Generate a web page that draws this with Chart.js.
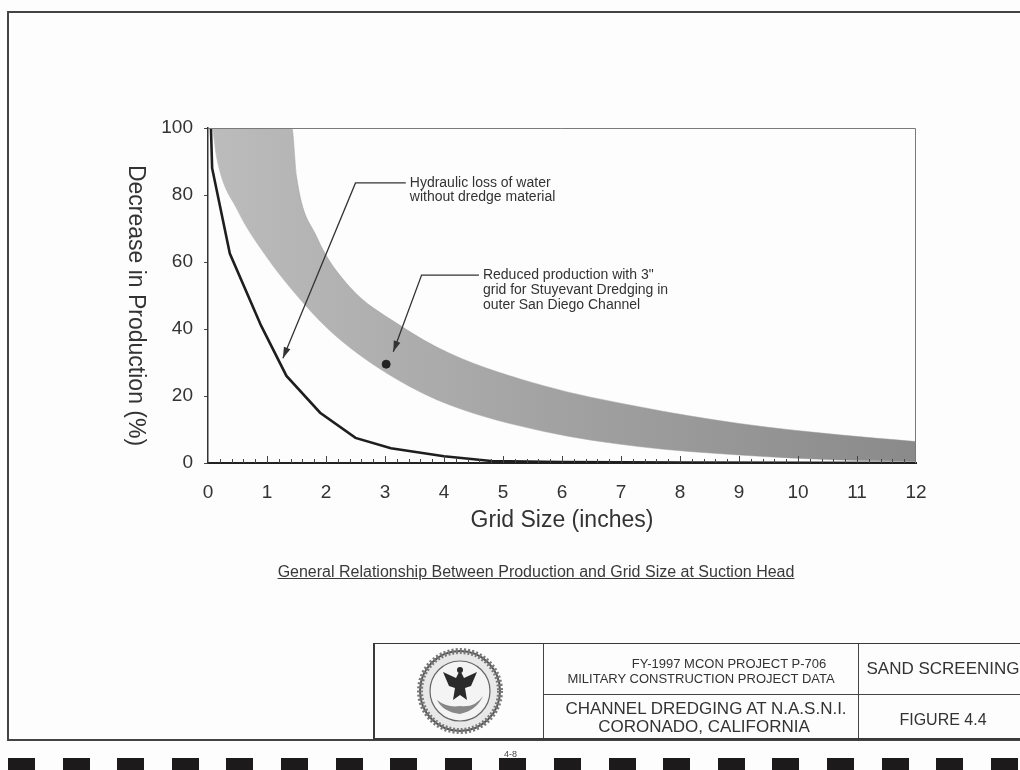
<!DOCTYPE html>
<html lang="en">
  <head>
    <meta charset="UTF-8">
    <script src="https://cdn.jsdelivr.net/npm/chart.js"></script>
    <title>Production vs Grid Size</title>
    <style>
      body{margin: 0; background: #fff;}
      #page{position: relative; width: 1020px; height: 770px; overflow: hidden; background: #fdfdfd;
        font-family: "Liberation Sans", Arial, sans-serif; color: #333;}
      #frame{position: absolute; left: 7px; top: 11px; width: 1040px; height: 726px;
        border: 2px solid #444; border-right: none;}
      #wrap{position: absolute; left: 0; top: 0; width: 1020px; height: 770px;}
      #caption{position: absolute; left: 236px; top: 563px; width: 600px; text-align: center;
        font-size: 16px; text-decoration: underline; color: #3a3a3a;}
      #block{position: absolute; left: 373px; top: 643px; width: 700px; height: 94px;
        border: 2px solid #3a3a3a; border-top-width: 1.5px;}
      .vline{position: absolute; top: 0; bottom: 0; width: 0; border-left: 1.5px solid #444;}
      .hline{position: absolute; height: 0; border-top: 1.5px solid #444;}
      .txt{position: absolute; width: 400px; text-align: center; white-space: nowrap; line-height: 1;}
      #marks{position: absolute; left: 0; top: 758px; width: 1020px; height: 14px;}
      .mark{position: absolute; top: 0; width: 27px; height: 14px; background: #1c1a1a;}
      #pageno{position: absolute; left: 504px; top: 749px; font-size: 9px; color: #444;}
    </style>
  </head>
  <body>
    <div id="page">
      <div id="frame"></div>
      <div id="wrap"><canvas id="myChart"></canvas></div>
      <div id="caption">General Relationship Between Production and Grid Size at Suction Head</div>

      <div id="block">
        <div class="vline" style="left:168px"></div>
        <div class="vline" style="left:483px"></div>
        <div class="hline" style="left:168px; width:600px; top:50px"></div>
        <svg style="position:absolute; left:42px; top:4px" width="86" height="86" viewBox="0 0 86 86">
          <circle cx="43" cy="43" r="40" fill="#e8e8e8" stroke="#555" stroke-width="2"/>
          <circle cx="43" cy="43" r="40" fill="none" stroke="#777" stroke-width="6" stroke-dasharray="2 2"/>
          <circle cx="43" cy="43" r="30" fill="#f4f4f4" stroke="#666" stroke-width="1.2"/>
          <path d="M20 52 Q30 60 43 58 Q58 60 66 48 Q60 62 43 66 Q26 64 20 52 Z" fill="#888"/>
          <path d="M43 22 L47 30 L60 24 L54 38 L48 40 L50 52 L43 47 L36 52 L38 40 L32 38 L26 24 L39 30 Z" fill="#2a2a2a"/>
          <circle cx="43" cy="22" r="3" fill="#2a2a2a"/>
        </svg>
        <div class="txt" style="left:154px; top:13px; font-size:13px">FY-1997 MCON PROJECT P-706</div>
        <div class="txt" style="left:126px; top:28px; font-size:13px">MILITARY CONSTRUCTION PROJECT DATA</div>
        <div class="txt" style="left:131px; top:56px; font-size:17px">CHANNEL DREDGING AT N.A.S.N.I.</div>
        <div class="txt" style="left:129px; top:74px; font-size:17px">CORONADO, CALIFORNIA</div>
        <div class="txt" style="left:368px; top:16px; font-size:17px">SAND SCREENING</div>
        <div class="txt" style="left:368px; top:68px; font-size:16px">FIGURE 4.4</div>
      </div>

      <div id="marks"></div>
      <div id="pageno">4-8</div>
    </div>

    <script>
      // 그래프 데이터 (Grid Size inches / Decrease %)
      const xTickLabels = ['0', '1', '2', '3', '4', '5', '6', '7', '8', '9', '10', '11', '12'];
      const yTickLabels = ['0', '20', '40', '60', '80', '100'];

      // Hydraulic loss of water without dredge material
      const lossX = [0.05, 0.07, 0.37, 0.9, 1.33, 1.9, 2.5, 3.1, 4.0, 4.8, 6.0, 8.0, 12.0];
      const lossY = [100, 88, 62.5, 41, 26, 15, 7.5, 4.4, 2.0, 0.6, 0.3, 0.1, 0];

      // shaded band - upper edge
      const bandTopX = [0.08, 1.42, 1.5, 1.84, 2.4, 3.2, 4.1, 5.7, 7.3, 9.0, 10.7, 12.0];
      const bandTopY = [100, 100, 85.5, 67.6, 52.6, 41.7, 32.7, 23, 16.8, 11.8, 8.4, 6.4];

      // shaded band - lower edge
      const bandLowX = [0.08, 0.15, 0.5, 0.95, 1.62, 2.18, 3.2, 4.1, 5.7, 7.3, 9.0, 10.7, 12.0];
      const bandLowY = [100, 91, 75.5, 62.6, 47.7, 37.7, 25, 17.3, 9.4, 4.9, 2.4, 0.9, 0.5];

      // Stuyevant Dredging, 3" grid
      const stuyX = [3.02];
      const stuyY = [29.5];

      function pts(xs, ys){
        return xs.map((x, i) => ({x: x, y: ys[i]}));
      }

      // 주석 (leader lines)
      const notes = [
        {lines: ['Hydraulic loss of water', 'without dredge material'],
         text: [3.42, 83.6], elbow: [2.5, 83.6], tip: [1.27, 31.3], gap: 14},
        {lines: ['Reduced production with 3"', 'grid for Stuyevant Dredging in', 'outer San Diego Channel'],
         text: [4.66, 56.1], elbow: [3.62, 56.1], tip: [3.14, 33.2], gap: 15}
      ];

      const FONT = '"Liberation Sans", Arial, sans-serif';

      const decor = {
        id: 'decor',
        afterDraw(chart){
          const c = chart.ctx;
          const a = chart.chartArea;
          const xs = chart.scales.x, ys = chart.scales.y;
          c.save();
          // plot box top/right
          c.strokeStyle = '#7a7a7a';
          c.lineWidth = 1;
          c.beginPath();
          c.moveTo(a.left, a.top + 0.5);
          c.lineTo(a.right - 0.5, a.top + 0.5);
          c.lineTo(a.right - 0.5, a.bottom);
          c.stroke();

          // minor ticks (0.2 in), inward
          c.strokeStyle = '#444';
          c.lineWidth = 1;
          for(let i = 1; i < 60; i++){
            const px = Math.round(xs.getPixelForValue(i / 5)) + 0.5;
            const len = (i % 5 === 0) ? 7 : 4;
            c.beginPath();
            c.moveTo(px, a.bottom);
            c.lineTo(px, a.bottom - len);
            c.stroke();
          }

          // y 축 제목 (top to bottom)
          c.fillStyle = '#333';
          c.font = '23px ' + FONT;
          c.textAlign = 'center';
          c.textBaseline = 'middle';
          c.translate(a.left - 73, (a.top + a.bottom) / 2 + 10);
          c.rotate(Math.PI / 2);
          c.fillText('Decrease in Production (%)', 0, 0);
          c.restore();

          // annotations
          c.save();
          c.strokeStyle = '#333';
          c.fillStyle = '#333';
          c.lineWidth = 1.3;
          c.font = '14px ' + FONT;
          c.textAlign = 'left';
          c.textBaseline = 'middle';
          notes.forEach(n => {
            const tx = xs.getPixelForValue(n.text[0]), ty = ys.getPixelForValue(n.text[1]);
            const ex = xs.getPixelForValue(n.elbow[0]), ey = ys.getPixelForValue(n.elbow[1]);
            const px = xs.getPixelForValue(n.tip[0]), py = ys.getPixelForValue(n.tip[1]);
            c.beginPath();
            c.moveTo(tx - 4, ey);
            c.lineTo(ex, ey);
            c.lineTo(px, py);
            c.stroke();
            const ang = Math.atan2(py - ey, px - ex);
            c.beginPath();
            c.moveTo(px, py);
            c.lineTo(px - 11 * Math.cos(ang) + 3.5 * Math.sin(ang), py - 11 * Math.sin(ang) - 3.5 * Math.cos(ang));
            c.lineTo(px - 11 * Math.cos(ang) - 3.5 * Math.sin(ang), py - 11 * Math.sin(ang) + 3.5 * Math.cos(ang));
            c.closePath();
            c.fill();
            n.lines.forEach((t, i) => c.fillText(t, tx, ty + i * n.gap));
          });
          c.restore();
        }
      };

      function bandColor(ctx){
        const a = ctx.chart.chartArea;
        if(!a) return '#a8a8a8';
        const g = ctx.chart.ctx.createLinearGradient(a.left, 0, a.right, 0);
        g.addColorStop(0, '#bcbcbc');
        g.addColorStop(0.45, '#a4a4a4');
        g.addColorStop(1, '#8a8a8a');
        return g;
      }

      new Chart(document.getElementById('myChart'), {
        type: 'line',
        data: {
          datasets: [{
            label: 'Stuyevant 3" grid',
            data: pts(stuyX, stuyY),
            showLine: false,
            pointRadius: 4,
            pointBackgroundColor: '#222',
            pointBorderColor: '#222'
          }, {
            label: 'Hydraulic loss',
            data: pts(lossX, lossY),
            borderColor: '#1e1e1e',
            borderWidth: 2.6,
            pointRadius: 0,
            tension: 0,
            fill: false
          }, {
            label: 'Band upper',
            data: pts(bandTopX, bandTopY),
            borderColor: '#9a9a9a',
            borderWidth: 0.5,
            backgroundColor: bandColor,
            pointRadius: 0,
            cubicInterpolationMode: 'monotone',
            fill: '+1'
          }, {
            label: 'Band lower',
            data: pts(bandLowX, bandLowY),
            borderColor: '#a0a0a0',
            borderWidth: 0.5,
            pointRadius: 0,
            cubicInterpolationMode: 'monotone',
            fill: false
          }]
        },
        options: {
          responsive: true,
          maintainAspectRatio: false,
          animation: false,
          layout: {padding: {left: 150, top: 128, right: 104, bottom: 236}},
          plugins: {legend: {display: false}, tooltip: {enabled: false}},
          scales: {
            x: {
              type: 'linear',
              min: 0, max: 12,
              grid: {display: false, drawTicks: false},
              border: {display: true, color: '#222', width: 2},
              ticks: {
                stepSize: 1, padding: 18, color: '#333',
                font: {size: 19, family: FONT},
                callback: (v, i) => xTickLabels[i]
              },
              title: {display: true, text: 'Grid Size (inches)', color: '#333',
                font: {size: 23, family: FONT}, padding: {top: 0, bottom: 0}},
              afterFit(s){ s.height = 71; }
            },
            y: {
              min: 0, max: 100,
              grid: {drawOnChartArea: false, drawTicks: true, tickLength: 4, color: '#444'},
              border: {display: true, color: '#333', width: 1.5},
              ticks: {
                stepSize: 20, padding: 11, color: '#333',
                font: {size: 19, family: FONT},
                callback: (v, i) => yTickLabels[i]
              },
              afterFit(s){ s.width = 58; }
            }
          }
        },
        plugins: [decor]
      });

      // 하단 검은 표시
      const marks = document.getElementById('marks');
      for(let i = 0; i < 19; i++){
        const d = document.createElement('div');
        d.className = 'mark';
        d.style.left = (8 + i * 54.6) + 'px';
        marks.appendChild(d);
      }
    </script>
  </body>
</html>
